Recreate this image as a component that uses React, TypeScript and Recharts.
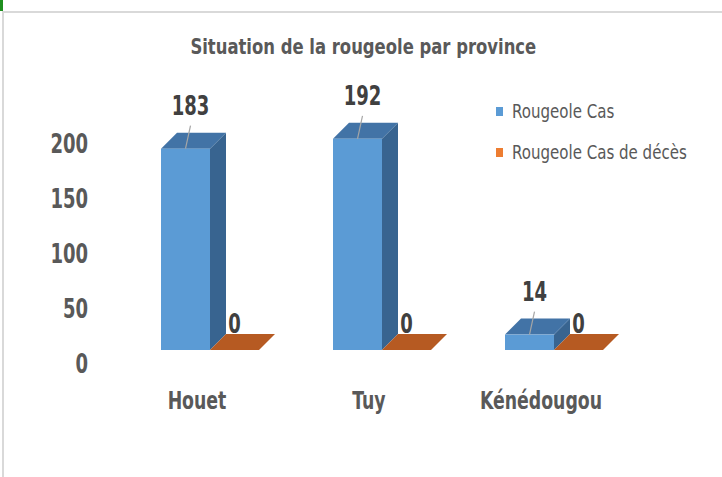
import React from 'react';
import { BarChart, Bar, XAxis, YAxis, Legend, LabelList } from 'recharts';

// values
const provinces = ['Houet', 'Tuy', 'Kénédougou'];
const casValues = [183, 192, 14];
const decesValues = [0, 0, 0];
const yTicks = [0, 50, 100, 150, 200];
const seriesNames = ['Rougeole Cas', 'Rougeole Cas de décès'];
const seriesColors = ['#5B9BD5', '#ED7D31'];

const data = provinces.map((p, i) => ({ province: p, cas: casValues[i], deces: decesValues[i] }));

const FONT = "'DejaVu Sans Condensed', 'Liberation Sans', sans-serif";
const DEPTH = 16;
const NARROW = 0.77; // squeeze bold labels to look like the original condensed font

// 3D-ish prism: front face, right side, top
const prism = (front: string, side: string, top: string) => (props: any) => {
    const { x, y, width, height } = props;
    const h = Math.max(0, height || 0);
    const d = DEPTH;
    return (
        <g>
            {h > 0 && (
                <polygon
                    points={`${x + width},${y} ${x + width + d},${y - d} ${x + width + d},${y + h - d} ${x + width},${y + h}`}
                    fill={side}
                />
            )}
            <polygon points={`${x},${y} ${x + d},${y - d} ${x + width + d},${y - d} ${x + width},${y}`} fill={top} />
            {h > 0 && <rect x={x} y={y} width={width} height={h} fill={front} />}
        </g>
    );
};

// bold text squeezed horizontally
const NarrowText = ({ x, y, anchor, size, color, children }: any) => (
    <text transform={`translate(${x},${y}) scale(${NARROW},1)`} x={0} y={0} textAnchor={anchor}
        dominantBaseline="central" fontFamily={FONT} fontWeight="bold" fontSize={size} fill={color}>
        {children}
    </text>
);

const CasLabel = (props: any) => {
    const { x, y, width, value } = props;
    const cx = x + width / 2;
    return (
        <g>
            <line x1={cx + 5} y1={y - 23} x2={cx} y2={y} stroke="#A6A6A6" strokeWidth={1.2} />
            <NarrowText x={cx + 5} y={y - 43} anchor="middle" size={26} color="#404040">{value}</NarrowText>
        </g>
    );
};

const DecesLabel = (props: any) => {
    const { x, y, width, value } = props;
    return <NarrowText x={x + width / 2} y={y - 27} anchor="middle" size={26} color="#404040">{value}</NarrowText>;
};

const YTick = (props: any) => {
    const { x, y, payload } = props;
    return <NarrowText x={x} y={y + 13} anchor="end" size={26} color="#595959">{payload.value}</NarrowText>;
};

const XTick = (props: any) => {
    const { x, y, payload } = props;
    return <NarrowText x={x - 13} y={y + 50} anchor="middle" size={25} color="#595959">{payload.value}</NarrowText>;
};

const LegendBox = () => (
    <div style={{ fontFamily: FONT, fontSize: 19, color: '#595959' }}>
        {seriesNames.map((name, i) => (
            <div key={name} style={{ display: 'flex', alignItems: 'center', height: 20, marginBottom: 21, whiteSpace: 'nowrap' }}>
                <span style={{ display: 'inline-block', width: 7, height: 9, background: seriesColors[i], marginRight: 9 }} />
                <span style={{ display: 'inline-block', transform: 'scaleX(0.88)', transformOrigin: 'left center' }}>{name}</span>
            </div>
        ))}
    </div>
);

export default function App() {
    return (
        <div style={{ position: 'absolute', left: 0, top: 0, width: 722, height: 477, background: '#fff', overflow: 'hidden' }}>
            <div style={{ position: 'absolute', left: 0, top: 0, width: 3, height: 11, background: '#1F8F1F' }} />
            <div style={{ position: 'absolute', left: 2, top: 11, width: 720, height: 2, background: '#D9D9D9' }} />
            <div style={{ position: 'absolute', left: 2, top: 11, width: 2, height: 466, background: '#D9D9D9' }} />
            <div style={{
                position: 'absolute', left: 0, width: 726, top: 34, textAlign: 'center',
                fontFamily: FONT, fontWeight: 'bold', fontSize: 22, color: '#595959'
            }}>
                <span style={{ display: 'inline-block', transform: 'scaleX(0.83)', transformOrigin: 'center' }}>
                    Situation de la rougeole par province
                </span>
            </div>
            <div style={{ position: 'absolute', left: 0, top: 0 }}>
                <BarChart width={722} height={477} data={data} barGap={0} barSize={49}
                    margin={{ top: 130, right: 82, bottom: 97, left: 60 }}>
                    <XAxis dataKey="province" axisLine={false} tickLine={false} tickSize={0} tickMargin={0}
                        height={30} tick={<XTick />} interval={0} />
                    <YAxis domain={[0, 200]} ticks={yTicks} axisLine={false} tickLine={false} tickSize={0}
                        tickMargin={36} width={64} tick={<YTick />} />
                    <Legend layout="vertical" align="center" verticalAlign="middle" content={<LegendBox />}
                        wrapperStyle={{ position: 'absolute', left: 496, top: 101, width: 224, height: 80 }} />
                    <Bar dataKey="cas" name={seriesNames[0]} fill={seriesColors[0]} isAnimationActive={false}
                        shape={prism('#5B9BD5', '#386490', '#4273A6')}>
                        <LabelList dataKey="cas" content={<CasLabel />} />
                    </Bar>
                    <Bar dataKey="deces" name={seriesNames[1]} fill={seriesColors[1]} isAnimationActive={false}
                        shape={prism('#ED7D31', '#A9501C', '#B65A22')}>
                        <LabelList dataKey="deces" content={<DecesLabel />} />
                    </Bar>
                </BarChart>
            </div>
        </div>
    );
}
